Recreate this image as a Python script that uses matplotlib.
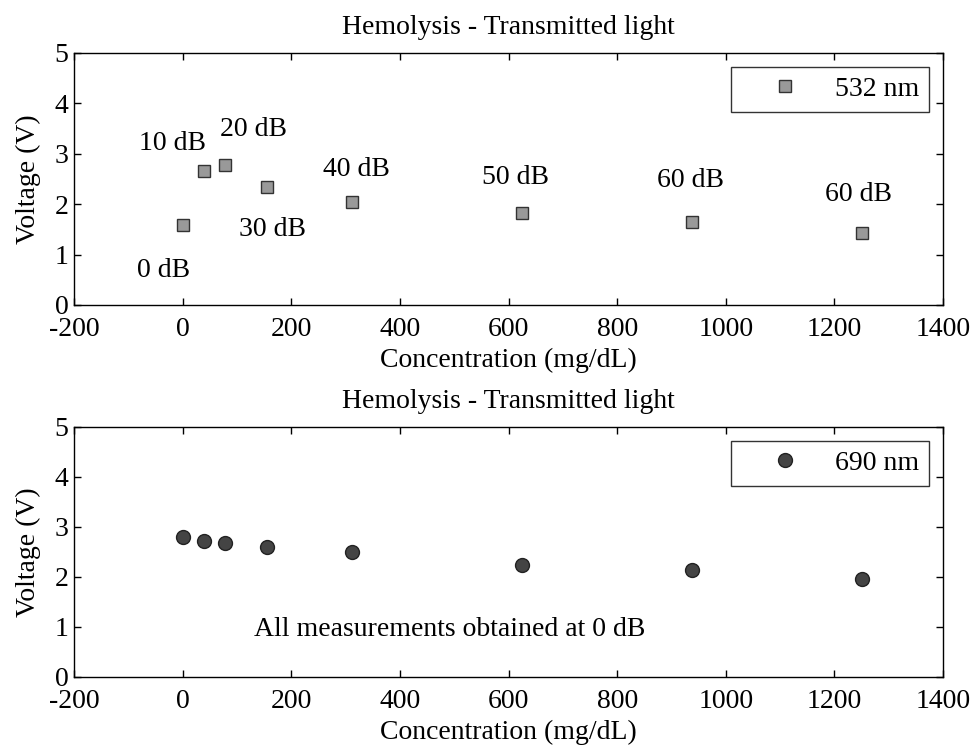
import numpy as np
import matplotlib
matplotlib.use('Agg')
import matplotlib.pyplot as plt

plt.rcParams['font.family'] = ['Liberation Serif', 'DejaVu Serif']
plt.rcParams['axes.unicode_minus'] = False

# concentracion de hemoglobina (mg/dL)
conc = [0, 39, 78, 156, 312, 625, 937, 1250]
# voltajes medidos
volt_532 = [1.58, 2.65, 2.78, 2.35, 2.05, 1.82, 1.65, 1.43]
volt_690 = [2.80, 2.72, 2.68, 2.60, 2.50, 2.25, 2.15, 1.97]

# etiquetas de atenuacion para 532 nm
att_labels = ['0 dB', '10 dB', '20 dB', '30 dB', '40 dB', '50 dB', '60 dB', '60 dB']
att_x = [-35, -18, 130, 165, 320, 612, 935, 1245]
att_y = [0.69, 3.2, 3.49, 1.49, 2.68, 2.52, 2.48, 2.2]

note_690 = 'All measurements obtained at 0 dB'

FS = 20

fig = plt.figure(figsize=(9.73, 7.53), dpi=100)
ax0 = fig.add_axes([74/973, 1 - 305/753, 869/973, 252/753])
ax1 = fig.add_axes([74/973, 1 - 677/753, 869/973, 250/753])

ax0.plot(conc, volt_532, 's', markersize=8.5, markerfacecolor='#999999',
         markeredgecolor='#333333', markeredgewidth=1.0, label='532 nm')
for lab, x, y in zip(att_labels, att_x, att_y):
    ax0.text(x, y, lab, ha='center', va='center', fontsize=FS)

ax1.plot(conc, volt_690, 'o', markersize=10, markerfacecolor='#444444',
         markeredgecolor='#222222', markeredgewidth=1.0, label='690 nm')
ax1.text(492, 0.95, note_690, ha='center', va='center', fontsize=FS)

for ax in (ax0, ax1):
    ax.set_xlim(-200, 1400)
    ax.set_ylim(0, 5)
    ax.set_xticks(np.arange(-200, 1401, 200))
    ax.set_yticks(np.arange(0, 6, 1))
    ax.tick_params(direction='in', top=True, right=True, labelsize=FS,
                   length=5, width=1)
    ax.tick_params(axis='x', pad=9)
    ax.tick_params(axis='y', pad=4)
    ax.set_xlabel('Concentration (mg/dL)', fontsize=FS, labelpad=4)
    ax.set_ylabel('Voltage (V)', fontsize=FS, labelpad=10)
    ax.set_title('Hemolysis - Transmitted light', fontsize=FS, pad=14)
    for s in ax.spines.values():
        s.set_linewidth(1.0)
    leg = ax.legend(loc='upper right', fontsize=FS, frameon=True, fancybox=False,
                    edgecolor='black', borderpad=0.35, handletextpad=0.2,
                    borderaxespad=0.5, handlelength=3.2)
    leg.get_frame().set_linewidth(1.0)

fig.savefig('out.png', dpi=100)
